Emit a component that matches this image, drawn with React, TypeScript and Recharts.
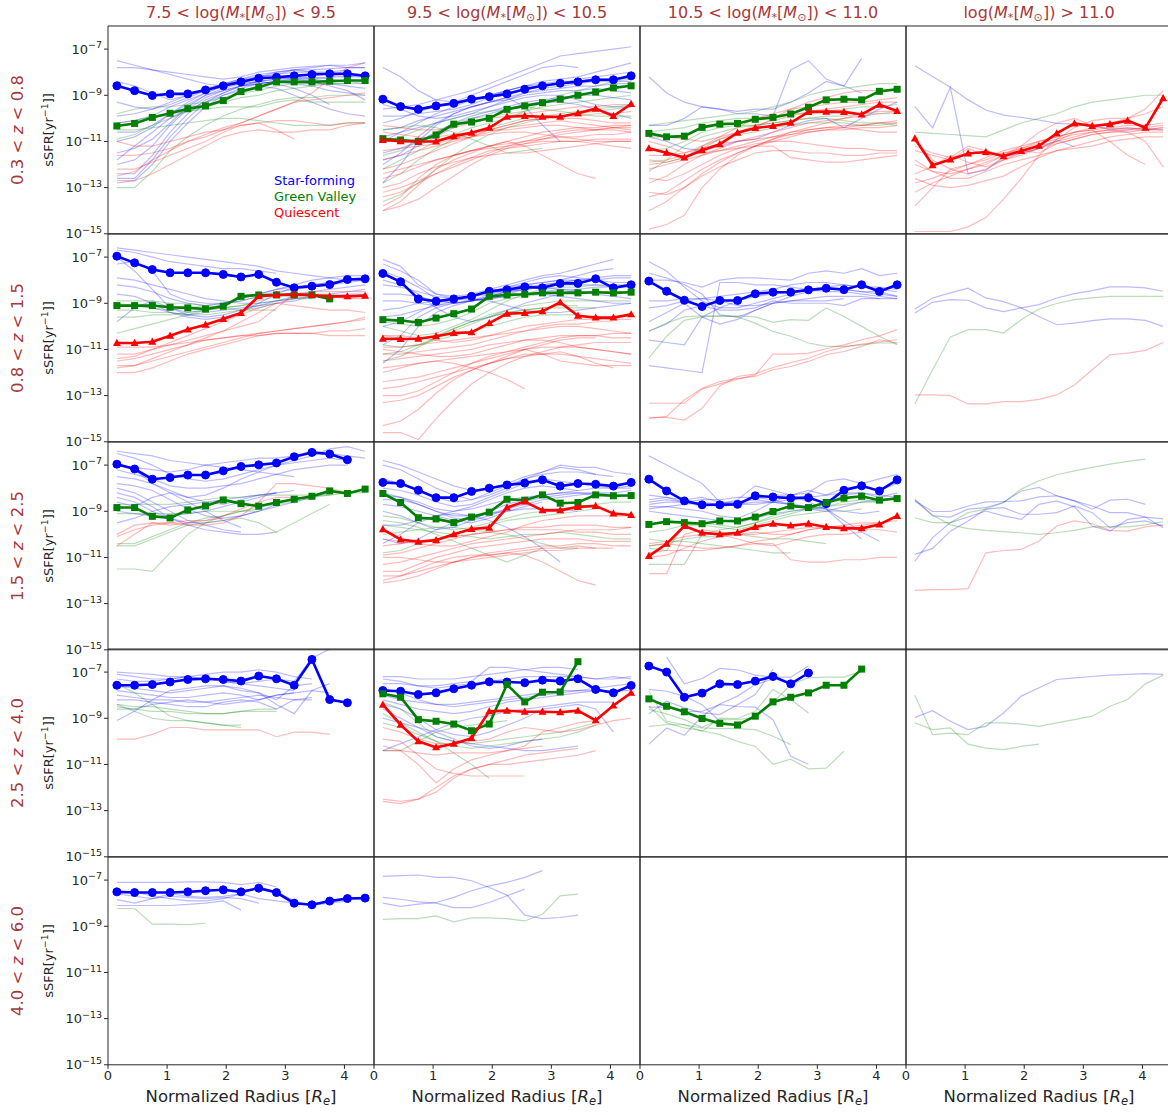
import React from 'react';
import { LineChart, Line, XAxis, YAxis, ReferenceArea } from 'recharts';

type Profile = (number | null)[];

// Radial bin centres, in units of the effective radius
const RADII = [0.15, 0.45, 0.75, 1.05, 1.35, 1.65, 1.95, 2.25, 2.55, 2.85, 3.15, 3.45, 3.75, 4.05, 4.35];
const X_TICKS = [0, 1, 2, 3, 4];
// log10 sSFR tick positions
const Y_TICKS = [-15, -13, -11, -9, -7];

const Z_BINS: [string, string][] = [
  ['0.3', '0.8'],
  ['0.8', '1.5'],
  ['1.5', '2.5'],
  ['2.5', '4.0'],
  ['4.0', '6.0'],
];
const MASS_BINS: [string | null, string][] = [
  ['7.5', '9.5'],
  ['9.5', '10.5'],
  ['10.5', '11.0'],
  [null, '11.0'],
];
const CLASS_NAMES = ['Star-forming', 'Green Valley', 'Quiescent'];

// ---------------- 0.3 < z < 0.8 ----------------
const z1m1SF: Profile = [-8.59, -8.8, -9.01, -8.94, -8.94, -8.77, -8.59, -8.42, -8.26, -8.22, -8.16, -8.1, -8.07, -8.07, -8.16];
const z1m1GV: Profile = [-10.33, -10.22, -9.96, -9.78, -9.58, -9.46, -9.23, -8.84, -8.65, -8.42, -8.42, -8.42, -8.39, -8.36, -8.36];
const z1m1SFgal: Profile[] = [
  [-7.5, -7.7, -7.9, -8.1, -8.3, -8.5, -8.6, -8.4, -8.2, -8.0, -7.9, -7.8, -7.7, -7.8, -7.8],
  [-7.8, -7.8, -7.9, -8.0, -8.1, -8.2, -8.3, -8.2, -8.0, -7.9, -7.8, -7.75, -7.7, -7.7, -7.6],
  [-8.4, -8.6, -8.9, -9.2, -9.0, -8.8, -8.5, -8.3, -8.1, -8.0, -7.9, -8.0, -8.0, -7.9],
  [-9.3, -9.5, -9.6, -9.4, -9.1, -8.8, -8.5, -8.3, -8.2, -8.1, -8.0, -8.0, -8.1, -8.2, -8.1],
  [-10.2, -10.1, -9.9, -9.5, -9.2, -8.9, -8.6, -8.4, -8.3, -8.2, -8.3, -8.4, -8.6, -8.8, -9.2],
  [-11.0, -10.8, -10.4, -9.8, -9.3, -8.9, -8.6, -8.5, -8.4, -8.5, -8.7, -9.0, -9.4],
  [-11.5, -11.3, -10.9, -10.2, -9.5, -9.0, -8.7, -8.5, -8.4, -8.3, -8.3, -8.2, -8.3, -8.4, -8.5],
  [-12.0, -11.8, -11.2, -10.3, -9.6, -9.1, -8.8, -8.6, -8.5, -8.4, -8.4, -8.5, -8.5, -8.6, -8.7],
  [-12.4, -12.4, -11.6, -10.6, -9.8, -9.2, -8.9, -8.6, -8.4, -8.3, -8.2, -8.3, -8.4],
  [-12.8, -12.7, -12.0, -11.0, -10.2, -9.5, -9.0, -8.7, -8.5, -8.4, -8.3, -8.3, -8.2, -8.2, -8.2],
  [-11.8, -11.2, -10.6, -10.0, -9.6, -9.3, -9.0, -8.8, -8.6, -8.7, -9.0, -9.3, -9.6, -9.8, -9.9],
  [-10.6, -10.6, -10.3, -9.8, -9.4, -9.0, -8.8, -8.6, -8.5, -8.4, -8.5, -8.6, -8.8, -8.9, -9.0],
  [-12.6, -12.6, -11.8, -10.8, -10.0, -9.3, -8.9, -8.6, -8.4],
  [-9.9, -9.8, -9.6, -9.3, -9.0, -8.7, -8.5, -8.4, -8.2, -8.1, -7.9, -7.9, -7.85, -7.8, -7.8],
];
const z1m1GVgal: Profile[] = [
  [-13.0, -13.0, -12.3, -11.4, -10.8, -10.3, -9.9, -9.6, -9.4, -9.2, -9.1, -9.1, -9.0, -9.0, -9.0],
  [-9.8, -9.6, -9.5, -9.5, -9.4, -9.3, -9.1, -8.9, -8.8, -8.6, -8.5, -8.5, -8.5, -8.5, -8.5],
  [-10.2, -10.1, -9.9, -9.8, -9.7, -9.6, -9.5, -9.5, -9.5, -9.3, -9.2, -9.3, -9.3, -9.3, -9.3],
  [-10.5, -10.5, -10.4, -10.3, -10.2, -10.1, -10.0, -10.0, -10.1, -10.2, -10.3, -10.3, -10.3, -10.2, -10.2],
  [-10.9, -10.7, -10.3, -10.0, -9.7, -9.5, -9.3, -9.1, -9.0, -8.8, -8.7, -8.6, -8.5, -8.5],
];
const z1m1Qgal: Profile[] = [
  [-11.6, -11.6, -11.5, -11.3, -11.0, -10.8, -10.5, -10.2, -9.9, -9.6, -9.3, -8.9, -8.3, -7.8, -7.6],
  [-12.2, -12.2, -11.9, -11.6, -11.3, -11.0, -10.6, -10.3, -10.2, -10.1, -10.1, -10.2, -10.3, -10.2, -10.2],
  [-12.7, -12.7, -12.4, -12.0, -11.6, -11.2, -10.8, -10.6, -10.5, -10.6, -10.6, -10.5, -10.5, -10.3, -10.2],
  [-11.0, -11.2, -11.2, -11.0, -10.8, -10.6, -10.5, -10.3, -10.2, -10.5, -10.9],
  [-12.5, -12.3, -11.8, -11.4, -11.0, -10.7, -10.4, -10.2, -9.9, -9.6, -9.3, -9.2, -9.1, -9.0, -8.9],
];

const z1m2SF: Profile = [-9.17, -9.49, -9.61, -9.46, -9.35, -9.17, -9.06, -8.94, -8.74, -8.59, -8.48, -8.42, -8.33, -8.33, -8.16];
const z1m2GV: Profile = [-10.88, -10.94, -11.0, -10.72, -10.25, -10.16, -10.0, -9.61, -9.46, -9.32, -9.17, -9.0, -8.86, -8.68, -8.59];
const z1m2Q: Profile = [-10.94, -10.99, -11.0, -11.0, -10.77, -10.62, -10.41, -9.93, -9.9, -9.93, -9.93, -9.78, -9.58, -9.9, -9.38];
const z1m2SFgal: Profile[] = [
  [-7.8, -8.2, -8.8, -9.2, -9.3, -9.2, -9.0, -8.8, -8.6, -8.4, -8.3, -8.2, -8.0, -7.8, -7.6],
  [-9.6, -9.5, -9.4, -9.2, -9.0, -8.8, -8.5, -8.2, -7.9, -7.6, -7.3, -7.2, -7.1, -7.0, -6.9],
  [-10.2, -10.0, -9.7, -9.5, -9.3, -9.0, -8.7, -8.4, -8.1, -7.8, -7.7, -7.8],
  [-11.0, -10.6, -10.2, -9.8, -9.5, -9.2, -9.0, -8.8, -8.6, -8.5, -8.4, -8.4, -8.3, -8.3, -8.2],
  [-12.8, -12.0, -11.0, -10.3, -9.8, -9.5, -9.3, -9.1, -8.9, -8.8, -8.7, -8.6, -8.6, -8.5, -8.5],
  [-10.5, -10.4, -10.1, -9.9, -9.7, -9.5, -9.3, -9.2, -9.0, -8.9, -8.8, -8.8, -8.7, -8.8, -8.9],
  [-11.5, -11.3, -11.0, -10.6, -10.2, -9.9, -9.7, -9.5, -9.3, -9.2, -9.1, -9.0, -9.0, -9.1, -9.2],
  [-9.4, -9.6, -9.9, -10.0, -9.9, -9.7, -9.5, -9.3, -9.1, -9.0, -9.0, -9.2, -9.4, -9.5, -9.5],
  [-12.0, -11.5, -10.8, -10.2, -9.8, -9.5, -9.3, -9.1, -9.5, -10.3, -11.0],
  [-10.8, -10.6, -10.4, -10.2, -10.0, -9.8, -9.5, -9.2, -8.9, -8.7, -8.6, -8.5, -8.4, -8.4, -8.4],
  [-9.9, -9.9, -9.8, -9.7, -9.6, -9.4, -9.1, -8.8, -8.6, -8.6, -8.5, -8.3, -8.2, -8.1, -8.0],
  [-11.8, -11.6, -11.2, -10.8, -10.4, -10.0, -9.8, -9.6, -9.4, -9.3, -9.3, -9.4, -9.6, -9.8, -10.0],
];
const z1m2GVgal: Profile[] = [
  [-11.6, -11.4, -11.0, -10.6, -10.2, -10.0, -9.9, -9.8, -9.7, -9.5, -9.4, -9.3, -9.2, -9.1, -9.0],
  [-12.8, -12.4, -11.8, -11.3, -10.9, -10.6, -10.4, -10.2, -10.0, -9.9, -9.8, -9.7, -9.6, -9.5, -9.4],
  [-10.5, -10.4, -10.3, -10.4, -10.6, -10.9, -11.2, -11.5, -11.4, -11.3],
  [-12.2, -11.8, -11.4, -11.0, -10.7, -10.4, -10.2, -10.0, -9.7, -9.3, -9.0, -8.8, -8.6, -8.4, -8.3],
  [-11.0, -10.8, -10.5, -10.2, -10.0, -9.8, -9.7, -9.6, -9.5, -9.6, -9.7, -9.8, -9.9, -9.9, -9.9],
  [-13.6, -13.3, -12.8, -12.2, -11.6, -11.1, -10.7, -10.4, -10.2, -10.0, -9.9, -9.8, -9.7, -9.6, -9.5],
];
const z1m2Qgal: Profile[] = [
  [-14.0, -13.6, -12.9, -12.2, -11.8, -11.5, -11.2, -11.0, -10.8, -10.6, -10.5, -10.4, -10.4, -10.3, -10.3],
  [-13.8, -13.4, -12.6, -12.0, -11.6, -11.4, -11.2, -11.1, -11.0, -10.9, -10.8, -10.8, -10.7, -10.7, -10.6],
  [-13.4, -13.2, -12.8, -12.4, -12.0, -11.7, -11.4, -11.3, -11.2, -11.1, -11.0, -11.0, -10.9, -10.9, -10.9],
  [-13.0, -12.8, -12.4, -12.1, -11.9, -11.7, -11.6, -11.5, -11.5, -11.4, -11.3, -11.2, -11.1, -11.0, -11.0],
  [-12.6, -12.4, -12.1, -11.8, -11.6, -11.4, -11.2, -11.0, -11.2, -11.6, -12.0, -12.4, -12.6],
  [-12.2, -12.0, -11.7, -11.4, -11.1, -10.8, -10.5, -10.3, -10.1, -10.0, -9.9, -9.9, -9.8, -9.8, -9.7],
  [-11.8, -11.6, -11.4, -11.2, -11.0, -10.8, -10.6, -10.4, -10.3, -10.2, -10.1, -10.2, -10.3, -10.4, -10.5],
  [-11.4, -11.3, -11.2, -11.1, -10.9, -10.7, -10.5, -10.3, -10.1, -10.0, -10.0, -10.0, -10.1, -10.2, -10.2],
  [-11.0, -11.0, -10.9, -10.8, -10.7, -10.6, -10.5, -10.5, -10.4, -10.3, -10.3, -10.4, -10.5, -10.5, -10.6],
  [-10.6, -10.7, -10.8, -10.9, -10.9, -10.8, -10.7, -10.6, -10.6, -10.7, -10.8, -10.9, -11.0, -11.0, -11.0],
  [-12.4, -12.2, -12.0, -11.8, -11.6, -11.4, -11.3, -11.2, -11.1, -11.0, -11.0, -11.0, -11.1, -11.2, -11.3],
  [-13.2, -13.0, -12.7, -12.4, -12.1, -11.8, -11.5, -11.2, -11.0, -10.8, -10.6, -10.5, -10.5, -10.4, -10.4],
  [-10.3, -10.4, -10.5, -10.5, -10.4, -10.2, -10.0, -9.9, -9.8, -9.7, -9.6, -9.5, -9.5, -9.4, -9.4],
  [-14.0, -13.8, -13.5, -13.0, -12.5, -12.0, -11.6, -11.3, -11.1, -10.9, -10.7, -10.6, -10.5, -10.4, -10.3],
];

const z1m3GV: Profile = [-10.65, -10.8, -10.77, -10.39, -10.25, -10.22, -10.04, -9.96, -9.81, -9.52, -9.2, -9.17, -9.2, -8.83, -8.74];
const z1m3Q: Profile = [-11.3, -11.49, -11.7, -11.38, -11.12, -10.62, -10.42, -10.33, -10.19, -9.72, -9.71, -9.72, -9.83, -9.41, -9.68];
const z1m3SFgal: Profile[] = [
  [-8.2, -8.9, -9.3, -9.5, -9.6, -9.7, -9.6, -9.6, -9.3, -8.9, -8.4, -8.6, -7.4],
  [-10.3, -10.3, -10.0, -9.5, -9.6, -9.8, -9.8, -9.9, -7.9, -7.5, -8.3, -8.6, -8.9],
  [-10.8, -11.0, -11.3, -11.4, -11.2, -11.0, -10.9, -10.6, -10.3, -10.1, -10.0, -10.4, -10.0, -9.6, -9.3],
];
const z1m3GVgal: Profile[] = [
  [-10.3, -10.2, -10.1, -10.0, -9.9, -9.8, -9.7, -9.5, -9.3, -9.0, -8.8, -8.7, -8.6, -8.5, -8.5],
  [-10.6, -10.5, -10.4, -10.2, -10.1, -10.0, -10.0, -9.9, -9.8, -9.8, -9.7, -9.6, -9.5, -9.5, -9.4],
  [-11.4, -11.3, -11.0, -10.6, -10.4, -10.3, -10.3, -10.2, -10.1, -10.0, -9.9, -9.9, -9.8, -9.8, -9.7],
  [-12.3, -11.8, -11.2, -10.8, -10.6, -10.4, -10.3, -10.2, -10.1, -10.0, -10.0, -10.1, -10.2, -10.2, -10.3],
  [-11.8, -11.9, -11.7, -11.2, -10.9, -10.7, -10.6, -10.4, -10.3, -10.2, -10.2, -10.2, -10.3, -10.3, -10.2],
];
const z1m3Qgal: Profile[] = [
  [-12.8, -12.5, -12.0, -11.6, -11.3, -11.0, -10.8, -10.6, -10.4, -10.2, -10.1, -10.0, -9.9, -9.8, -9.8],
  [-13.4, -13.2, -12.7, -12.2, -11.8, -11.5, -11.2, -11.0, -10.8, -10.6, -10.5, -10.4, -10.3, -10.2, -10.2],
  [-14.0, -13.6, -13.0, -12.4, -11.9, -11.5, -11.2, -10.9, -10.7, -10.5, -10.4, -10.3, -10.3, -10.2, -10.1],
  [-12.2, -12.0, -11.8, -11.6, -11.4, -11.2, -11.0, -10.8, -10.6, -10.5, -10.4, -10.4, -10.5, -10.6, -10.6],
  [-11.6, -11.6, -11.5, -11.3, -11.1, -11.0, -10.9, -10.8, -10.7, -10.6, -10.5, -10.5, -10.4, -10.4, -10.3],
  [-12.6, -12.7, -12.4, -12.0, -11.6, -11.3, -11.1, -11.0, -11.0, -11.1, -11.2, -11.3, -11.3, -11.4, -11.4],
  [-13.2, -13.3, -13.0, -12.5, -12.1, -11.8, -11.5, -11.4, -11.4, -11.5, -11.5, -11.6, -11.6, -11.5, -11.5],
  [-14.8, -14.6, -14.2, -13.0, -12.2, -11.6, -11.2, -10.9, -10.6, -10.4, -10.2, -10.0, -9.8, -9.7, -9.7],
  [-12.0, -11.9, -11.7, -11.3, -10.9, -10.6, -10.3, -10.1, -9.9, -9.7, -9.6, -9.5, -9.4, -9.3, -9.3],
  [-11.9, -11.8, -11.6, -11.5, -11.4, -11.3, -11.2, -11.2, -11.7, -11.8, -11.9, -11.9, -11.8, -11.7, -11.6],
  [-11.0, -11.2, -11.5, -11.2, -10.8, -10.4, -10.0, -9.8, -9.6, -9.5, -9.4, -9.3, -9.3, -9.2, -9.1],
  [-10.8, -10.8, -10.9, -11.0, -10.8, -10.6, -10.4, -10.0, -9.6, -9.3, -9.1, -8.9, -8.8, -8.8, -8.8],
];

const z1m4Q: Profile = [-10.87, -12.03, -11.78, -11.52, -11.46, -11.64, -11.41, -11.19, -10.65, -10.22, -10.33, -10.25, -10.1, -10.41, -9.13];
const z1m4SFgal: Profile[] = [
  [-7.72, -8.19, -8.65, -9.2, -9.64, -9.86, -9.96, -10.07, -10.22, -10.25, -10.36, -10.43, -10.43, -10.43, -10.51],
  [-9.49, -10.41, -8.65, -12.39, -12.25, -11.67, -11.52, -11.3, -10.94, -11.23],
];
const z1m4GVgal: Profile[] = [
  [-10.6, -10.65, -10.7, -10.75, -10.8, -10.5, -10.2, -10.0, -9.8, -9.5, -9.3, -9.2, -9.1, -9.0, -9.0],
];
const z1m4Qgal: Profile[] = [
  [-11.0, -11.8, -12.2, -12.0, -11.7, -11.4, -11.2, -11.0, -10.8, -10.6, -10.5, -10.4, -10.3, -10.3, -10.2],
  [-11.8, -12.3, -12.4, -12.2, -12.0, -11.6, -11.2, -10.6, -10.2, -10.0, -10.3, -10.5, -10.6, -10.5, -10.4],
  [-12.4, -12.1, -11.6, -11.9, -12.1, -11.8, -11.6, -11.3, -11.0, -10.8, -10.6, -10.5, -10.4, -10.5, -10.4],
  [-13.8, -13.0, -12.2, -12.4, -12.2, -11.8, -11.5, -11.3, -11.1, -10.9, -10.7, -10.6, -10.5, -10.4, -10.3],
  [-12.8, -12.6, -12.3, -12.0, -11.8, -11.5, -11.3, -11.1, -10.9, -10.7, -10.6, -10.5, -10.5, -10.5, -10.5],
  [-11.4, -11.6, -11.8, -11.3, -11.6, -11.5, -11.4, -11.2, -11.0, -10.6, -10.5, -11.0, -11.6, -12.0],
  [-14.9, -14.9, -14.9, -14.7, -14.3, -13.5, -12.6, -11.6, -10.9, -10.4, -10.1, -10.0, -10.0, -9.8, -9.5],
  [-12.0, -12.3, -12.6, -12.6, -12.3, -12.0, -11.8, -11.6, -11.4, -11.3, -11.2, -11.0, -10.9, -10.8, -10.8],
  [-12.6, -12.9, -13.0, -12.9, -12.7, -12.5, -12.1, -11.7, -11.4, -11.2, -11.0, -10.8, -10.7, -10.6, -10.6],
  [-11.2, -11.5, -11.7, -11.2, -11.4, -11.6, -11.4, -11.5, -11.1, -10.9, -10.7, -10.6, -10.6, -11.0, -12.1],
  [-13.2, -12.8, -12.5, -12.2, -11.9, -11.6, -11.3, -11.0, -10.8, -10.6, -10.4, -10.2, -10.0, -9.6, -8.8],
];

// ---------------- 0.8 < z < 1.5 ----------------
const z2m1SF: Profile = [-6.96, -7.25, -7.54, -7.68, -7.68, -7.68, -7.75, -7.86, -7.75, -8.09, -8.33, -8.26, -8.19, -7.97, -7.94];
const z2m1GV: Profile = [-9.1, -9.1, -9.1, -9.17, -9.2, -9.25, -9.13, -8.7, -8.64, -8.64, -8.64, -8.64, -8.81];
const z2m1Q: Profile = [-10.72, -10.72, -10.67, -10.41, -10.14, -9.93, -9.68, -9.42, -8.7, -8.64, -8.61, -8.64, -8.7, -8.7, -8.67];
const z2m1SFgal: Profile[] = [
  [-6.6, -6.7, -6.8, -6.9, -7.0, -7.1, -7.2, -7.3, -7.4, -7.6, -7.7, -7.8, -7.9, -8.0, -8.0],
  [-6.7, -6.8, -7.0, -7.2, -7.3, -7.4, -7.5, -7.5, -7.6, -7.7],
  [-7.3, -7.2, -7.6, -8.6, -8.9, -9.0, -9.0, -8.9, -8.7, -8.5, -8.4, -8.3, -8.2, -8.1, -8.0],
  [-8.2, -8.3, -8.5, -8.8, -9.0, -9.1, -9.0, -8.8, -8.6, -8.4, -8.2, -8.0, -7.9, -7.8, -7.8],
  [-9.8, -9.2, -8.9, -9.2, -9.5, -9.6, -9.5, -9.3, -9.1, -8.9, -8.7, -8.5, -8.4, -8.3, -8.2],
  [-8.6, -8.7, -9.0, -9.4, -9.6, -9.7, -9.6, -9.4, -9.0, -8.6, -8.3, -8.2, -8.1, -8.0, -8.0],
  [-7.0, -7.6, -8.4, -9.2, -9.4, -9.3, -9.0, -8.8, -8.6, -8.4, -8.3, -8.2, -8.1, -8.0, -7.9],
  [-9.1, -9.1, -9.2, -9.4, -9.5, -9.4, -9.3, -9.2, -9.1, -9.0, -8.9, -8.7, -8.6, -8.5, -8.4],
  [-7.9, -8.0, -8.2, -8.4, -8.6, -8.8, -8.9, -9.0, -9.0, -8.9, -8.8, -8.7, -8.7, -8.6, -8.6],
];
const z2m1GVgal: Profile[] = [
  [-8.9, -8.9, -8.9, -9.0, -9.0, -9.1, -9.2, -9.3, -9.3, -9.3],
  [-9.3, -9.3, -9.4, -9.4, -9.5, -9.5, -9.4, -9.3, -9.2, -9.0],
  [-9.6, -9.6, -9.5, -9.5, -9.4, -9.3, -9.2, -9.1, -9.0, -8.9, -8.8, -8.8],
  [-10.3, -10.1, -9.9, -9.7, -9.5, -9.3, -9.2, -9.1, -8.9, -8.7, -8.6, -8.6, -8.6, -8.7],
  [-9.0, -9.1, -9.2, -9.3, -9.2, -9.1, -9.0, -8.9, -8.7, -8.6, -8.6, -8.7],
];
const z2m1Qgal: Profile[] = [
  [-11.2, -11.2, -11.0, -10.8, -10.6, -10.4, -10.2, -10.0, -9.8, -9.2, -8.6, -8.5, -8.5, -8.5, -8.5],
  [-11.7, -11.7, -11.5, -11.3, -11.1, -10.9, -10.7, -10.5, -10.3, -10.2, -10.1, -10.0, -9.9, -9.8, -9.7],
  [-12.0, -12.0, -11.8, -11.5, -11.2, -11.0, -10.8, -10.6, -10.4, -10.3, -10.3, -10.3, -10.2, -10.2, -10.1],
  [-11.5, -11.4, -11.2, -11.0, -10.8, -10.6, -10.5, -10.4, -10.4, -10.3, -10.3, -10.3, -10.4, -10.4, -10.4],
  [-10.9, -10.9, -10.9, -10.8, -10.7, -10.6, -10.5, -10.4, -10.3, -10.2, -10.1, -10.0, -9.9, -9.8, -9.6],
  [-11.8, -11.7, -11.4, -11.1, -10.8, -10.5, -10.2, -9.8, -9.4, -9.0, -8.8, -8.7, -8.7, -8.8, -8.8],
  [-11.4, -11.3, -11.0, -10.7, -10.4, -10.1, -9.8, -9.5, -9.2, -9.0, -9.1, -9.2, -9.3, -9.3, -9.4],
];

const z2m2SF: Profile = [-7.71, -8.07, -8.81, -8.91, -8.81, -8.7, -8.48, -8.41, -8.29, -8.33, -8.14, -8.14, -7.94, -8.33, -8.2];
const z2m2GV: Profile = [-9.71, -9.75, -9.83, -9.64, -9.45, -9.25, -8.7, -8.64, -8.61, -8.55, -8.55, -8.55, -8.52, -8.55, -8.52];
const z2m2Q: Profile = [-10.54, -10.55, -10.54, -10.43, -10.29, -10.26, -9.86, -9.45, -9.42, -9.35, -8.96, -9.54, -9.62, -9.62, -9.48];
const z2m2SFgal: Profile[] = [
  [-7.1, -7.4, -8.2, -8.6, -8.8, -8.9, -8.8, -8.6, -8.4, -8.2, -8.1, -8.0, -7.9, -7.8, -7.8],
  [-7.3, -7.6, -8.0, -8.6, -8.7, -8.6, -8.4, -8.2, -8.0, -7.8, -7.7, -7.5, -7.3, -7.1],
  [-7.6, -7.9, -8.3, -8.8, -9.0, -8.9, -8.6, -8.4, -8.2, -8.1, -8.0, -7.8, -7.6, -7.5],
  [-8.2, -8.3, -8.5, -8.7, -8.8, -8.7, -8.5, -8.3, -8.1, -7.9, -7.8, -7.9, -8.0, -8.1, -8.1],
  [-8.6, -8.6, -8.7, -8.9, -9.0, -8.9, -8.7, -8.5, -8.4, -8.3, -8.2, -8.2, -8.2, -8.3, -8.3],
  [-8.9, -8.9, -9.0, -9.1, -9.0, -8.9, -8.8, -8.7, -8.6, -8.6, -8.7, -8.8, -8.9, -9.0, -9.0],
  [-9.3, -9.2, -9.0, -8.9, -8.8, -8.7, -8.6, -8.5, -8.4, -8.3, -8.4, -8.5, -8.6, -8.7, -8.8],
  [-9.6, -9.5, -9.3, -9.1, -8.9, -8.7, -8.5, -8.3, -8.2, -8.1, -8.0, -8.0],
  [-10.0, -9.8, -9.4, -9.0, -8.8, -8.8, -8.9, -9.1, -9.3, -9.4, -9.4, -9.3, -9.2, -9.1, -9.0],
  [-10.8, -10.4, -9.6, -9.2, -9.0, -8.9, -8.8, -8.7, -8.6, -8.5, -8.4, -8.4, -8.3, -8.3, -8.2],
  [-11.6, -11.0, -10.0, -9.4, -9.1, -8.9, -8.7, -8.5, -8.3, -8.2, -8.1, -8.0, -8.0, -7.9, -7.9],
  [-8.0, -8.2, -8.6, -9.2, -9.6, -9.8, -9.6, -9.3, -9.0, -8.8, -8.6, -8.4],
];
const z2m2GVgal: Profile[] = [
  [-9.8, -9.9, -10.0, -9.9, -9.7, -9.4, -9.0, -8.8, -8.7, -8.6, -8.5, -8.5, -8.5, -8.5, -8.5],
  [-10.4, -10.5, -10.6, -10.4, -10.1, -9.8, -9.5, -9.3, -9.1, -9.0, -8.9, -8.9, -8.9, -8.9, -8.9],
  [-10.8, -10.9, -10.8, -10.5, -10.2, -9.9, -9.6, -9.4, -9.3, -9.2, -9.2, -9.2, -9.2],
  [-11.2, -11.1, -10.8, -10.6, -10.4, -10.2, -10.0, -9.8, -9.6, -9.5, -9.5, -9.5],
  [-10.0, -10.2, -10.4, -10.3, -10.0, -9.7, -9.3, -8.9, -8.6, -8.4, -8.3, -8.3, -8.2, -8.2, -8.2],
  [-11.5, -11.3, -10.9, -10.5, -10.1, -9.8, -9.6, -9.4, -9.3, -9.2, -9.1, -9.1],
];
const z2m2Qgal: Profile[] = [
  [-10.9, -10.9, -10.8, -10.7, -10.6, -10.5, -10.4, -10.3, -10.2, -10.1, -10.0, -10.0, -10.1, -10.2, -10.3],
  [-11.2, -11.2, -11.1, -11.0, -10.9, -10.8, -10.6, -10.4, -10.2, -10.0, -9.9, -9.9, -9.8, -9.8],
  [-11.5, -11.4, -11.3, -11.2, -11.1, -11.0, -10.8, -10.7, -10.6, -10.5, -10.4, -10.4, -10.4, -10.5, -10.5],
  [-11.8, -11.7, -11.6, -11.5, -11.4, -11.3, -11.2, -11.1, -11.0, -10.9, -10.9, -10.9, -11.0, -11.1, -11.2],
  [-12.4, -12.3, -12.2, -12.0, -11.8, -11.6, -11.4, -11.2, -11.0, -11.2, -11.5, -11.6, -11.7, -11.7, -11.7],
  [-13.0, -13.0, -12.8, -12.4, -12.0, -11.6, -11.3, -11.1, -10.9, -10.7, -10.5, -10.4, -10.4, -10.3, -10.3],
  [-13.3, -13.2, -13.0, -12.6, -12.2, -11.9, -11.6, -11.3, -11.0, -10.8, -10.6, -10.5, -10.5],
  [-14.3, -14.1, -13.6, -12.9, -12.3, -11.9, -11.6, -11.4, -11.3, -11.2, -11.1, -11.3, -11.6, -11.8],
  [-14.6, -14.6, -14.9, -14.0, -13.2, -12.5, -12.0, -11.6, -11.3, -11.1, -10.9, -10.8, -10.7, -10.7, -10.7],
  [-12.0, -11.8, -11.6, -11.5, -11.6, -11.8, -12.0, -12.3, -12.7],
  [-11.0, -11.1, -11.2, -11.3, -11.3, -11.2, -11.0, -10.8, -10.6, -10.6, -10.7, -10.9, -11.0, -11.1, -11.2],
  [-12.7, -12.6, -12.4, -12.2, -12.0, -11.8, -11.6, -11.4, -11.2, -11.2, -11.2, -11.3, -11.4, -11.5, -11.6],
  [-10.4, -10.4, -10.5, -10.6, -10.7, -10.6, -10.4, -10.2, -10.0, -9.9, -9.8, -9.7, -9.7, -9.7, -9.7],
];

const z2m3SF: Profile = [-8.04, -8.48, -8.87, -9.14, -8.88, -8.88, -8.59, -8.52, -8.52, -8.42, -8.35, -8.41, -8.2, -8.49, -8.2];
const z2m3SFgal: Profile[] = [
  [-7.2, -7.6, -8.3, -8.9, -9.2, -9.2, -9.0, -8.8, -8.6, -8.4, -8.3, -8.4, -8.5, -8.5, -8.7],
  [-7.7, -7.9, -8.2, -8.6, -9.5, -9.6, -9.3, -9.0, -8.7, -8.5, -8.3, -8.2, -8.3, -8.4, -8.5],
  [-8.0, -8.0, -8.1, -8.3, -8.0, -7.9, -7.9, -7.95, -8.0, -7.7, -7.6, -7.7, -7.5, -7.8, -7.7],
  [-8.9, -8.9, -8.8, -8.8, -8.7, -8.6, -8.5, -8.4, -8.2, -8.1, -8.1, -8.2, -8.3, -8.3, -8.4],
  [-9.2, -9.1, -8.9, -8.8, -8.9, -9.1, -9.1, -9.0, -8.9, -8.8, -8.7, -8.7, -8.7, -8.8],
  [-10.6, -10.7, -10.8, -9.6, -9.2, -8.9, -8.7, -8.6, -8.5, -8.5, -8.4, -8.4, -8.5, -8.6, -8.7],
  [-11.7, -11.8, -11.9, -12.0, -8.1, -8.1, -8.2, -8.2, -8.3, -8.4, -8.5, -8.5, -8.6, -8.7, -8.8],
  [-9.8, -9.4, -9.0, -9.6, -9.9, -9.7, -9.3, -9.0, -8.9, -8.9, -8.9, -8.8],
  [-10.2, -9.9, -9.3, -9.1, -9.3, -9.3, -9.2, -8.9, -9.0, -9.0, -9.0, -9.1, -8.8, -8.8, -8.8],
];
const z2m3GVgal: Profile[] = [
  [-10.22, -9.86, -9.59, -9.54, -9.57, -9.54, -9.59, -9.83, -9.71, -9.74, -9.2, -9.57, -10.0, -10.43, -10.8],
  [-11.38, -10.43, -9.74, -9.59, -9.54, -9.59, -9.86, -10.22, -10.43, -10.72, -10.87, -10.87, -10.8, -10.72, -10.72],
];
const z2m3Qgal: Profile[] = [
  [-13.33, -13.33, -13.33, -12.72, -12.49, -12.29, -12.1, -11.2, -11.2, -11.16, -10.97, -10.8, -10.58, -10.41, -10.14],
  [-13.94, -13.94, -14.06, -13.55, -12.58, -12.17, -12.06, -11.78, -11.57, -11.38, -11.09, -10.9, -10.77, -10.67, -10.58],
  [-13.99, -13.9, -13.19, -12.68, -12.39, -12.25, -12.17, -11.88, -11.74, -11.52, -11.23, -11.09, -10.87, -10.58, -10.72],
];

const z2m4SFgal: Profile[] = [
  [-9.25, -8.77, -8.55, -8.35, -8.77, -8.93, -9.2, -9.06, -8.77, -8.58, -8.45, -8.29, -8.29, -8.33, -8.48],
  [-9.42, -8.96, -8.84, -8.87, -9.2, -9.36, -9.2, -9.57, -9.93, -9.86, -9.75, -9.68, -9.68, -9.74, -10.0],
];
const z2m4GVgal: Profile[] = [
  [-13.36, -11.88, -10.46, -10.14, -10.14, -10.29, -9.71, -9.25, -9.01, -8.84, -8.77, -8.7, -8.7, -8.7, -8.7],
];
const z2m4Qgal: Profile[] = [
  [-12.97, -12.97, -13.0, -13.36, -13.36, -13.26, -13.26, -13.16, -12.97, -12.54, -11.88, -11.23, -11.16, -11.04, -10.7],
];

// ---------------- 1.5 < z < 2.5 ----------------
const z3m1SF: Profile = [-6.96, -7.17, -7.61, -7.54, -7.43, -7.43, -7.25, -7.06, -6.99, -6.91, -6.64, -6.45, -6.52, -6.77];
const z3m1GV: Profile = [-8.84, -8.84, -9.22, -9.29, -8.94, -8.77, -8.51, -8.67, -8.78, -8.62, -8.48, -8.35, -8.12, -8.23, -8.04];
const z3m1SFgal: Profile[] = [
  [-6.4, -6.5, -6.6, -6.8, -6.9, -7.0, -7.1, -7.2, -7.3, -7.4, -7.5],
  [-6.5, -6.7, -7.0, -7.4, -7.6, -7.7, -7.6, -7.4, -7.2, -7.0, -6.8, -6.6, -6.3, -6.2, -6.4],
  [-6.9, -7.2, -7.8, -8.2, -8.4, -8.3, -8.0, -7.6, -7.3, -7.0, -6.9, -6.8, -6.7, -6.8],
  [-7.5, -7.6, -7.8, -8.1, -8.4, -8.6, -8.7, -8.5, -8.3, -8.2],
  [-7.8, -7.9, -8.1, -8.5, -8.9, -9.2, -9.3, -9.2, -9.0, -8.7, -8.4],
  [-8.0, -8.2, -8.6, -9.0, -9.4, -9.6, -9.8, -9.9],
  [-8.2, -8.4, -8.8, -9.3, -9.6, -9.8, -9.9, -10.0, -10.0, -9.9],
  [-8.4, -8.6, -9.0, -9.3, -9.5, -9.5, -9.4, -9.2, -9.0, -8.8, -8.6, -8.4, -8.2],
  [-8.6, -8.8, -8.4, -8.2, -8.6, -9.0, -9.4, -9.7],
  [-9.0, -9.1, -9.2, -9.2, -9.1, -9.0, -8.8, -8.6, -8.4, -8.2],
  [-9.5, -9.3, -9.0, -8.8, -8.7, -8.6, -8.5, -8.4, -8.3, -8.2, -8.1],
  [-7.2, -7.4, -7.6, -7.9, -8.0, -8.0, -7.9, -7.8, -7.6, -7.4, -7.2, -7.1, -7.0, -7.0],
  [-7.0, -7.1, -7.2, -7.3, -7.2, -7.0, -6.9, -6.8, -6.7, -6.7, -6.6, -6.5, -6.5, -6.6, -6.7],
];
const z3m1GVgal: Profile[] = [
  [-10.4, -10.4, -10.1, -9.8, -9.5, -9.3, -9.2, -9.0, -8.8, -8.7, -8.6, -8.4, -8.3, -8.2, -8.2],
  [-11.5, -11.5, -11.6, -10.8, -10.0, -9.5, -9.2, -9.0, -8.9],
  [-9.1, -9.1, -9.1, -9.1, -9.1, -9.0, -9.0, -9.0, -9.0],
  [-8.7, -8.7, -8.7, -8.7, -8.6, -8.5, -8.4, -8.4, -8.3, -8.3, -8.3, -8.3, -8.3],
  [-10.5, -10.5, -10.2, -9.9, -9.6, -9.5, -9.4, -9.3, -9.5, -9.9, -9.5, -9.1, -8.7],
];
const z3m1Qgal: Profile[] = [
  [-10.5, -10.0, -9.5, -9.5, -9.6, -9.6, -9.5, -9.2, -8.6, -7.8, -7.8, -7.9, -8.0, -8.2],
  [-10.0, -9.6, -9.5, -9.6, -9.5, -9.4, -9.2, -8.9, -8.6, -8.4, -8.4, -8.5],
  [-10.1, -9.8, -9.6, -9.5, -9.4, -9.4, -9.3],
];

const z3m2SF: Profile = [-7.75, -7.8, -8.09, -8.41, -8.41, -8.14, -8.0, -7.86, -7.78, -7.64, -7.91, -7.8, -7.83, -7.91, -7.75];
const z3m2GV: Profile = [-8.23, -8.62, -9.28, -9.33, -9.49, -9.25, -9.04, -8.48, -8.52, -8.29, -8.65, -8.62, -8.29, -8.33, -8.32];
const z3m2Q: Profile = [-9.78, -10.22, -10.32, -10.25, -10.0, -9.77, -9.71, -8.84, -8.58, -8.96, -8.96, -8.81, -8.77, -9.1, -9.16];
const z3m2SFgal: Profile[] = [
  [-7.0, -7.2, -7.6, -8.0, -8.3, -8.5, -8.3, -8.0, -7.6, -7.3, -7.1, -7.2, -7.4, -7.5],
  [-6.8, -7.0, -7.3, -7.6, -7.9, -8.1, -8.0, -7.8, -7.5, -7.3, -7.0, -7.1, -7.1, -7.3, -7.4],
  [-7.6, -7.8, -8.1, -8.4, -8.6, -8.5, -8.2, -7.9, -7.6, -7.4, -7.3, -7.3, -7.4],
  [-8.0, -8.1, -8.3, -8.6, -8.8, -8.7, -8.4, -8.1, -7.8, -7.6, -7.7, -7.8, -7.9, -8.0, -8.0],
  [-8.3, -8.4, -8.6, -8.9, -9.0, -8.8, -8.5, -8.2, -8.0, -7.9, -8.0, -8.1],
  [-8.5, -8.5, -8.7, -9.0, -9.3, -9.4, -9.2, -8.9, -8.6, -8.4, -8.3, -8.2, -8.2, -8.3, -8.3],
  [-8.7, -8.8, -9.0, -9.2, -9.4, -9.5, -9.3, -9.0, -8.8, -8.6],
  [-9.0, -9.2, -9.5, -9.8, -9.7, -9.4, -9.0, -8.7, -8.5, -8.3, -8.2, -8.2, -8.3],
  [-9.6, -9.6, -9.4, -9.2, -9.1, -9.2, -9.4, -9.7, -10.1, -10.6, -11.2],
  [-10.4, -10.0, -9.5, -9.2, -9.0, -8.9, -8.7, -8.5, -8.4, -8.3, -8.2, -8.1, -8.0, -8.0, -7.9],
  [-10.2, -10.4, -10.2, -9.8, -9.5, -9.3, -9.1, -9.0, -8.9, -8.9, -8.9, -9.0],
  [-8.2, -8.4, -8.7, -9.0, -9.2, -9.2, -9.1, -8.9, -8.7, -8.5, -8.4, -8.3, -8.2, -8.2, -8.1],
];
const z3m2GVgal: Profile[] = [
  [-9.2, -9.3, -9.5, -9.7, -9.8, -9.7, -9.5, -9.3, -9.1, -9.0, -8.9, -8.8, -8.7, -8.6, -8.6],
  [-9.6, -9.7, -9.8, -9.9, -10.0, -10.1, -10.2, -10.1, -10.0, -10.0, -9.9, -10.0, -10.1, -10.2, -10.2],
  [-10.0, -9.9, -9.8, -9.7, -9.7, -9.8, -9.9, -10.0, -10.2, -10.4, -10.6, -10.6],
  [-10.8, -10.7, -10.4, -10.2, -10.0, -9.8, -9.6, -9.4, -9.3, -9.2, -9.1, -9.0, -8.9],
  [-9.4, -9.5, -9.7, -10.0, -10.3, -10.6, -10.9, -11.2, -10.9, -10.6],
];
const z3m2Qgal: Profile[] = [
  [-10.5, -10.4, -10.3, -10.2, -10.1, -10.0, -9.9, -9.8, -9.7, -9.7, -9.6, -9.6, -9.6, -9.7, -9.7],
  [-10.9, -10.8, -10.6, -10.4, -10.2, -10.0, -9.9, -9.8, -9.8, -9.8, -9.8, -9.9, -9.9, -10.0, -10.0],
  [-11.3, -11.2, -11.0, -10.8, -10.6, -10.4, -10.3, -10.2, -10.1, -10.0, -9.9, -9.8, -9.8, -9.8, -9.7],
  [-11.6, -11.6, -11.3, -11.0, -10.8, -10.6, -10.5, -10.4, -10.3, -10.2, -10.2, -10.2, -10.3, -10.3, -10.3],
  [-12.0, -11.8, -11.5, -11.2, -11.0, -10.9, -10.9, -10.8, -10.7, -10.6, -10.6, -10.5, -10.6],
  [-12.1, -12.0, -11.8, -11.5, -11.2, -11.0, -10.9, -10.8, -10.9, -11.2, -11.6, -12.0, -12.2],
  [-11.8, -11.8, -11.6, -11.4, -11.2, -11.0, -10.8, -10.7, -10.6, -10.5, -10.5, -10.4, -10.4, -10.5, -10.5],
  [-10.2, -10.3, -10.4, -10.5, -10.5, -10.3, -10.1, -9.9, -9.6, -9.4, -9.3, -9.2, -9.2, -9.2, -9.2],
  [-11.0, -11.0, -11.1, -11.2, -11.2, -11.1, -11.0, -10.9, -10.8, -10.7, -10.7, -10.6, -10.6, -10.6],
];

const z3m3SF: Profile = [-7.61, -8.12, -8.55, -8.72, -8.72, -8.7, -8.33, -8.38, -8.43, -8.41, -8.67, -8.09, -7.9, -8.12, -7.64];
const z3m3GV: Profile = [-9.57, -9.45, -9.49, -9.54, -9.42, -9.42, -9.25, -9.01, -8.77, -8.84, -8.62, -8.43, -8.35, -8.52, -8.45];
const z3m3Q: Profile = [-10.94, -10.41, -9.64, -9.93, -10.0, -9.93, -9.68, -9.54, -9.62, -9.54, -9.68, -9.74, -9.74, -9.57, -9.2];
const z3m3SFgal: Profile[] = [
  [-6.6, -7.0, -7.4, -7.8, -8.6, -8.7, -8.7, -8.6, -8.5, -8.4, -8.3, -8.2, -8.2, -8.3, -8.4],
  [-8.3, -8.4, -8.5, -8.4, -8.6, -8.6, -8.5, -8.6, -8.7, -8.8, -8.7, -8.3, -8.2, -8.4, -8.2],
  [-8.5, -8.4, -8.6, -8.8, -8.7, -8.6, -8.4, -8.5, -8.7, -8.9, -9.0, -8.8, -8.6, -8.5, -8.4],
  [-8.6, -8.5, -8.6, -8.7, -8.8, -8.7, -8.6, -8.6, -8.7, -8.8, -8.9, -9.0, -9.1, -9.0],
  [-8.8, -8.8, -8.7, -8.6, -8.7, -8.5, -7.9, -8.1, -8.3, -8.6, -8.9, -9.6, -10.2],
  [-8.9, -8.8, -8.9, -9.0, -9.2, -9.3, -9.0, -8.6, -8.3, -8.1, -8.3, -8.0, -7.9, -8.1, -7.8],
  [-9.0, -9.1, -9.2, -9.3, -9.4, -9.5, -9.3, -9.1, -9.0, -8.9, -8.9, -9.4, -9.9, -10.3],
  [-8.7, -8.6, -8.6, -8.5, -8.5, -8.4, -8.4, -8.3, -8.3, -8.2, -7.7, -7.6, -7.8, -7.6, -7.4],
];
const z3m3GVgal: Profile[] = [
  [-9.9, -9.8, -9.6, -9.5, -9.6, -9.7, -9.5, -9.2, -9.0, -8.9, -8.8, -8.6, -8.5, -8.6, -8.4],
  [-10.6, -10.7, -9.6, -9.6, -9.7, -9.8, -9.6, -9.4, -9.2, -9.1, -9.0, -9.0, -8.9],
  [-11.3, -11.3, -11.3, -10.0, -9.8, -9.7, -9.5, -9.3, -9.1, -8.9, -8.8, -8.7, -8.6, -8.6],
  [-10.2, -10.3, -10.3, -10.4, -10.5, -10.6, -10.7, -10.8, -10.8],
  [-10.5, -10.4, -10.2, -10.1, -10.1, -10.0, -10.1, -10.2, -10.2, -10.3, -10.4],
];
const z3m3Qgal: Profile[] = [
  [-11.7, -11.7, -10.0, -9.8, -9.9, -10.0, -9.9, -10.0, -10.0, -9.8, -9.7, -9.7, -9.6, -9.5, -9.4],
  [-10.5, -10.4, -10.5, -10.6, -10.6, -10.5, -10.3, -10.2, -10.0, -9.8, -9.7, -9.7, -9.8, -9.8, -9.9],
  [-10.8, -10.7, -10.7, -10.7, -10.6, -10.5, -10.4, -10.4, -11.1, -11.2, -11.2, -11.1, -11.1, -11.0, -11.0],
  [-10.4, -10.3, -10.1, -10.0, -10.0, -10.2, -10.4, -10.5, -10.3, -10.1, -10.0, -10.0, -9.9],
  [-11.0, -10.9, -10.6, -10.3, -10.1, -10.0, -10.0, -9.9, -9.8, -9.7, -9.7, -9.6, -9.5, -9.5],
];

const z3m4SFgal: Profile[] = [
  [-8.48, -9.2, -9.25, -8.91, -8.84, -8.62, -8.12, -7.97, -8.33, -8.55, -8.91, -8.52, -8.48, -8.7],
  [-8.55, -9.01, -9.01, -8.77, -8.59, -8.58, -8.55, -8.38, -8.33, -8.55, -8.77, -9.06, -9.06, -9.25, -9.33],
  [-10.87, -10.61, -9.86, -9.42, -8.91, -8.84, -9.13, -9.13, -9.06, -8.77, -9.06, -9.71, -9.49, -9.42, -9.64],
  [-11.16, -10.14, -9.49, -9.25, -8.99, -9.2, -9.35, -8.7, -8.55, -8.81, -9.64, -9.86, -9.35, -9.25, -9.71],
];
const z3m4GVgal: Profile[] = [
  [-9.28, -9.49, -9.49, -9.06, -8.91, -8.62, -8.04, -7.68, -7.42, -7.25, -7.1, -6.96, -6.84, -6.74],
  [-8.55, -9.16, -9.59, -9.75, -9.83, -9.88, -9.93, -10.0, -9.93, -9.83, -9.68, -9.68, -9.68, -9.59, -9.45],
];
const z3m4Qgal: Profile[] = [
  [-12.43, -12.39, -12.39, -12.35, -10.8, -10.7, -10.65, -10.29, -9.64, -9.42, -9.54, -9.83, -9.86, -9.68, -9.59],
];

// ---------------- 2.5 < z < 4.0 ----------------
const z4m1SF: Profile = [-7.57, -7.57, -7.54, -7.43, -7.32, -7.29, -7.32, -7.39, -7.17, -7.29, -7.57, -6.45, -8.19, -8.33];
const z4m1SFgal: Profile[] = [
  [-7.0, -7.05, -7.1, -7.2, -7.2, -7.3, -7.4, -7.5, -7.6, -7.7, -7.8],
  [-7.1, -7.2, -7.3, -7.3, -7.2, -7.1, -7.0, -7.0, -6.9, -7.0, -7.2, -7.3],
  [-7.3, -7.4, -7.4, -7.3, -7.2, -7.3, -7.4, -7.5, -7.4, -7.3, -7.4, -6.4, -6.0],
  [-7.6, -7.7, -7.8, -7.9, -7.8, -7.7, -7.6, -7.7, -7.9, -8.2, -7.6, -7.5],
  [-7.8, -7.9, -8.0, -8.1, -8.1, -8.0, -7.9, -8.0, -8.2, -8.0, -7.9, -7.8, -7.9],
  [-8.0, -8.1, -8.2, -8.2, -8.3, -8.3, -8.2, -8.1, -8.0, -8.1, -8.2, -8.2],
  [-8.2, -8.2, -8.3, -8.4, -8.5, -8.5, -8.3, -8.2, -8.3, -8.6, -8.2, -8.1],
  [-8.5, -8.6, -8.4, -8.3, -8.2, -8.3, -8.4, -8.3, -8.2, -8.0, -7.9],
  [-9.1, -8.7, -8.2, -7.8, -7.7, -7.6, -7.6, -7.8, -7.9, -8.4, -8.8, -7.8, -7.5],
];
const z4m1GVgal: Profile[] = [
  [-8.4, -8.5, -8.5, -8.6, -8.7, -8.8, -8.8, -8.7, -8.6, -8.6],
  [-8.6, -8.6, -8.7, -8.7, -8.8, -8.8, -8.8, -8.7, -8.7, -8.7],
  [-7.5, -7.9, -8.4, -8.9, -9.1, -9.2, -9.3, -9.3],
  [-8.4, -8.7, -9.0, -9.1, -9.1, -9.2, -9.3, -9.4],
];
const z4m1Qgal: Profile[] = [
  [-9.9, -9.9, -9.7, -9.4, -9.4, -9.5, -9.5, -9.5, -9.5, -9.8, -9.6, -9.6, -9.7],
];

const z4m2SF: Profile = [-7.8, -7.83, -7.97, -7.9, -7.72, -7.57, -7.42, -7.43, -7.46, -7.35, -7.39, -7.29, -7.75, -7.9, -7.58];
const z4m2GV: Profile = [-7.94, -8.09, -9.06, -9.13, -9.25, -9.54, -9.25, -7.54, -8.29, -7.87, -7.86, -6.55];
const z4m2Q: Profile = [-8.41, -9.28, -10.0, -10.26, -10.1, -9.86, -8.7, -8.67, -8.72, -8.72, -8.74, -8.67, -9.09, -8.45, -7.9];
const z4m2SFgal: Profile[] = [
  [-7.2, -7.2, -7.3, -7.3, -7.3, -7.2, -7.1, -7.0, -6.9, -6.8, -6.8, -6.9],
  [-7.3, -7.4, -7.6, -7.7, -7.6, -7.5, -7.4, -7.3, -7.2, -7.2, -7.2, -7.2, -7.3, -7.2, -7.3],
  [-7.5, -7.5, -7.6, -7.6, -7.5, -7.4, -6.8, -6.8, -6.9, -7.0, -7.1, -7.2, -7.3, -7.3, -7.2],
  [-7.7, -7.9, -8.2, -8.4, -8.5, -8.4, -8.3, -8.2, -8.1, -8.0, -7.9, -7.8, -7.7, -7.6, -7.5],
  [-8.0, -8.2, -8.3, -8.4, -8.4, -8.3, -8.2, -8.1, -8.0, -7.9, -7.8, -7.8, -7.8],
  [-8.2, -8.4, -8.6, -8.7, -8.8, -8.7, -8.5, -8.3, -8.2, -8.1, -8.0, -7.9, -7.8, -7.8, -7.8],
  [-8.4, -8.6, -9.0, -9.5, -9.7, -9.8, -9.6, -9.3, -9.0, -8.6, -8.5, -8.4, -8.6, -9.6],
  [-8.6, -9.0, -9.4, -9.8, -10.0, -10.1, -10.2, -10.3, -10.4, -10.4, -10.3, -10.2],
  [-9.0, -9.2, -9.4, -9.6, -9.9, -10.2, -10.3, -10.2, -10.0, -9.9],
  [-10.4, -10.1, -9.8, -9.5, -9.2, -9.0, -8.9, -8.7, -8.6, -8.5, -8.4, -8.3, -8.3, -8.3],
];
const z4m2GVgal: Profile[] = [
  [-8.3, -8.6, -9.2, -9.8, -10.0, -10.1, -10.0, -9.9, -9.8, -9.7, -9.6, -9.4, -9.2],
  [-8.8, -9.2, -9.6, -10.0, -10.5, -11.0, -11.6],
  [-10.4, -10.4, -10.0, -9.6, -9.4, -9.3, -9.2, -9.1],
  [-9.2, -9.4, -9.7, -10.0, -10.2, -10.3, -10.2, -10.1, -10.0, -9.9, -9.8, -9.6, -9.3],
];
const z4m2Qgal: Profile[] = [
  [-12.5, -12.6, -12.5, -12.2, -11.6, -11.2, -11.0, -11.0, -10.9, -10.8, -10.7, -10.6, -10.4],
  [-12.6, -12.7, -12.5, -12.0, -11.5, -11.2, -11.0, -10.8, -10.6, -10.5, -10.4, -10.3],
  [-10.4, -10.4, -10.5, -10.6, -10.5, -10.5, -10.5, -10.4, -10.3, -10.2],
  [-10.2, -10.4, -11.0, -11.8, -11.2, -10.8, -10.6, -10.4, -10.2, -9.6, -9.4, -9.2, -9.1],
  [-9.9, -10.0, -10.6, -11.2, -11.4, -11.5, -11.5, -11.5, -11.5],
  [-9.4, -9.6, -9.9, -10.1, -10.1, -10.0, -9.9, -9.6, -9.4, -9.5, -9.6, -9.5, -9.3, -9.1, -9.0],
];

const z4m3SF: Profile = [-6.74, -7.0, -8.09, -7.91, -7.51, -7.54, -7.39, -7.19, -7.51, -7.04];
const z4m3GV: Profile = [-8.16, -8.48, -8.72, -9.01, -9.22, -9.29, -8.91, -8.29, -8.09, -7.9, -7.57, -7.57, -6.87];
const z4m3SFgal: Profile[] = [
  [null, -6.35, -7.51, -7.28, -6.84, -6.9, -7.13, -7.22, -7.22, -6.74],
  [-8.81, -8.26, -8.55, -8.77, -8.84, -8.41, -7.97, -6.88],
  [-10.12, -9.42, -9.74, -8.91, -8.38, -8.04, -7.54, -7.3],
  [-8.52, -8.52, -8.7, -8.7, -8.41, -8.49, -8.52, -9.06, -10.65, -10.99],
  [-7.75, -7.83, -8.04, -8.41, -9.13],
];
const z4m3GVgal: Profile[] = [
  [-7.83, -9.13, -9.28, -9.57, -8.99, -9.01, -8.7, -7.75, -8.19, -8.77],
  [-9.35, -9.28, -9.28, -9.42, -9.45, -9.45, -9.49, -9.78, -10.14],
  [-8.48, -9.2, -9.42, -9.54, -9.71, -10.0, -10.22, -10.99, -10.77, -11.19, -11.16, -10.43],
  [-8.62, -8.81, -9.06, -9.39, -9.06, -9.06, -8.96, -8.33, -7.54, -7.25, -7.22, -7.22, -6.96],
];

const z4m4SFgal: Profile[] = [
  [-8.96, -8.67, -9.13, -9.49, -9.35, -8.77, -8.04, -7.68, -7.32, -7.25, -7.19, -7.13, -7.1, -7.07, -7.1],
];
const z4m4GVgal: Profile[] = [
  [-8.0, -9.71, -9.64, -9.71, -9.2, -9.2, -9.25, -9.35, -9.2, -9.06, -8.91, -8.48, -8.19, -7.51, -7.13],
  [-9.2, -9.49, -9.42, -10.12, -10.29, -10.36, -10.22, -10.12],
];

// ---------------- 4.0 < z < 6.0 ----------------
const z5m1SF: Profile = [-7.51, -7.54, -7.54, -7.54, -7.51, -7.46, -7.42, -7.51, -7.35, -7.54, -8.0, -8.07, -7.91, -7.8, -7.78];
const z5m1SFgal: Profile[] = [
  [-7.1, -7.1, -7.1, -7.1, -7.08, -7.08, -7.1, -7.2, -7.1, -7.3],
  [-7.85, -8.0, -7.8, -7.7, -7.75, -7.8, -7.75, -7.8, -8.0],
  [-8.1, -8.1, -8.1, -8.1, -8.05, -8.0, -7.9, -8.3],
  [-7.6, -7.7, -7.8, -7.6, -7.7, -7.75, -7.7, -7.6, -7.8, -7.9, -8.0, -8.1, -8.0, -7.9],
  [-7.5, -7.5, -7.7, -7.8, -7.9, -7.9, -7.8, -7.6, -7.3, -7.5, -7.9, -8.1, -7.9, -7.8],
];
const z5m1GVgal: Profile[] = [
  [-8.23, -8.23, -8.91, -8.91, -8.93, -8.87],
];

const z5m2SFgal: Profile[] = [
  [-6.84, -6.81, -6.78, -6.88, -6.88, -7.03, -7.32, -7.65, -8.52, -8.67, -8.62, -8.52],
  [-8.0, -8.14, -8.04, -7.97, -7.75, -7.46, -7.25, -7.1, -6.88, -6.59],
  [-7.75, -7.83, -7.94, -8.0, -8.19, -8.19, -7.97, -7.68, -7.39],
];
const z5m2GVgal: Profile[] = [
  [-8.7, -8.67, -8.67, -8.55, -8.81, -8.64, -8.64, -8.67, -8.77, -8.48, -7.68, -7.61],
];

interface PanelData {
  sf?: Profile;
  gv?: Profile;
  q?: Profile;
  sfGal?: Profile[];
  gvGal?: Profile[];
  qGal?: Profile[];
}

const PANELS: PanelData[][] = [
  [
    { sf: z1m1SF, gv: z1m1GV, sfGal: z1m1SFgal, gvGal: z1m1GVgal, qGal: z1m1Qgal },
    { sf: z1m2SF, gv: z1m2GV, q: z1m2Q, sfGal: z1m2SFgal, gvGal: z1m2GVgal, qGal: z1m2Qgal },
    { gv: z1m3GV, q: z1m3Q, sfGal: z1m3SFgal, gvGal: z1m3GVgal, qGal: z1m3Qgal },
    { q: z1m4Q, sfGal: z1m4SFgal, gvGal: z1m4GVgal, qGal: z1m4Qgal },
  ],
  [
    { sf: z2m1SF, gv: z2m1GV, q: z2m1Q, sfGal: z2m1SFgal, gvGal: z2m1GVgal, qGal: z2m1Qgal },
    { sf: z2m2SF, gv: z2m2GV, q: z2m2Q, sfGal: z2m2SFgal, gvGal: z2m2GVgal, qGal: z2m2Qgal },
    { sf: z2m3SF, sfGal: z2m3SFgal, gvGal: z2m3GVgal, qGal: z2m3Qgal },
    { sfGal: z2m4SFgal, gvGal: z2m4GVgal, qGal: z2m4Qgal },
  ],
  [
    { sf: z3m1SF, gv: z3m1GV, sfGal: z3m1SFgal, gvGal: z3m1GVgal, qGal: z3m1Qgal },
    { sf: z3m2SF, gv: z3m2GV, q: z3m2Q, sfGal: z3m2SFgal, gvGal: z3m2GVgal, qGal: z3m2Qgal },
    { sf: z3m3SF, gv: z3m3GV, q: z3m3Q, sfGal: z3m3SFgal, gvGal: z3m3GVgal, qGal: z3m3Qgal },
    { sfGal: z3m4SFgal, gvGal: z3m4GVgal, qGal: z3m4Qgal },
  ],
  [
    { sf: z4m1SF, sfGal: z4m1SFgal, gvGal: z4m1GVgal, qGal: z4m1Qgal },
    { sf: z4m2SF, gv: z4m2GV, q: z4m2Q, sfGal: z4m2SFgal, gvGal: z4m2GVgal, qGal: z4m2Qgal },
    { sf: z4m3SF, gv: z4m3GV, sfGal: z4m3SFgal, gvGal: z4m3GVgal },
    { sfGal: z4m4SFgal, gvGal: z4m4GVgal },
  ],
  [
    { sf: z5m1SF, sfGal: z5m1SFgal, gvGal: z5m1GVgal },
    { sfGal: z5m2SFgal, gvGal: z5m2GVgal },
    {},
    {},
  ],
];

// ---------------- layout & style ----------------
const FONT = '"DejaVu Sans", sans-serif';
const INK = '#262626';
const LABEL_RED = '#a83838';
const PLOT_LEFT = 108;
const PLOT_TOP = 26;
const PW = 266;
const PH = 207.8;
const YW = 56;
const XH = 34;
const MT = 2;
const MR = 2;

const COLOR = { sf: '#0000ff', gv: '#008000', q: '#ff0000' };
const CLASSES = ['sf', 'gv', 'q'] as const;

const YTick = (props: any) => {
  const { x, y, payload } = props;
  return (
    <text x={x} y={y} dy="0.35em" textAnchor="end" fontSize={13} fill={INK} fontFamily={FONT}>
      10
      <tspan dy="-0.55em" fontSize={9.5}>{'\u2212' + String(-payload.value)}</tspan>
    </text>
  );
};

const circleDot = (p: any) =>
  p.cx == null || p.cy == null ? (
    <g key={`c${p.index}`} />
  ) : (
    <circle key={`c${p.index}`} cx={p.cx} cy={p.cy} r={4} fill={COLOR.sf} stroke={COLOR.sf} />
  );

const squareDot = (p: any) =>
  p.cx == null || p.cy == null ? (
    <g key={`s${p.index}`} />
  ) : (
    <rect key={`s${p.index}`} x={p.cx - 3.5} y={p.cy - 3.5} width={7} height={7} fill={COLOR.gv} />
  );

const triangleDot = (p: any) =>
  p.cx == null || p.cy == null ? (
    <g key={`t${p.index}`} />
  ) : (
    <path
      key={`t${p.index}`}
      d={`M${p.cx},${p.cy - 4.2}L${p.cx + 4},${p.cy + 3}L${p.cx - 4},${p.cy + 3}Z`}
      fill={COLOR.q}
    />
  );

const MARKERS = { sf: circleDot, gv: squareDot, q: triangleDot };

function buildRows(p: PanelData) {
  return RADII.map((x, i) => {
    const row: Record<string, number | null> = { x };
    CLASSES.forEach((cls) => {
      const gal = (p as any)[`${cls}Gal`] as Profile[] | undefined;
      (gal || []).forEach((prof, k) => {
        const v = prof[i];
        row[`${cls}g${k}`] = v === undefined ? null : v;
      });
      const med = (p as any)[cls] as Profile | undefined;
      if (med) {
        const v = med[i];
        row[cls] = v === undefined ? null : v;
      }
    });
    return row;
  });
}

function Panel({ data, row, col }: { data: PanelData; row: number; col: number }) {
  const rows = buildRows(data);
  const bottom = row === PANELS.length - 1;
  const thin: React.ReactNode[] = [];
  CLASSES.forEach((cls) => {
    const gal = (data as any)[`${cls}Gal`] as Profile[] | undefined;
    (gal || []).forEach((_, k) => {
      thin.push(
        <Line
          key={`${cls}g${k}`}
          dataKey={`${cls}g${k}`}
          stroke={COLOR[cls]}
          strokeOpacity={0.27}
          strokeWidth={1.2}
          dot={false}
          activeDot={false}
          isAnimationActive={false}
        />
      );
    });
  });
  const medians = CLASSES.filter((cls) => (data as any)[cls]).map((cls) => (
    <Line
      key={cls}
      dataKey={cls}
      stroke={COLOR[cls]}
      strokeWidth={2.6}
      dot={MARKERS[cls]}
      activeDot={false}
      isAnimationActive={false}
    />
  ));

  return (
    <div
      style={{
        position: 'absolute',
        left: PLOT_LEFT + col * PW - YW,
        top: PLOT_TOP + row * PH - MT,
      }}
    >
      <LineChart
        width={YW + PW + MR}
        height={MT + PH + XH}
        data={rows}
        margin={{ top: MT, right: MR, bottom: 0, left: 0 }}
      >
        <XAxis
          dataKey="x"
          type="number"
          domain={[0, 4.5]}
          ticks={X_TICKS}
          interval={0}
          allowDataOverflow
          height={XH}
          axisLine={false}
          tickSize={4}
          tickLine={bottom ? { stroke: INK } : false}
          tick={bottom ? { fontSize: 13, fill: INK, fontFamily: FONT } : false}
        />
        <YAxis
          type="number"
          domain={[-15, -6]}
          ticks={Y_TICKS}
          interval={0}
          allowDataOverflow
          width={YW}
          axisLine={false}
          tickSize={4}
          tickLine={{ stroke: INK }}
          tick={col === 0 ? YTick : false}
        />
        {thin}
        {medians}
        <ReferenceArea
          x1={0}
          x2={4.5}
          y1={-15}
          y2={-6}
          fill="none"
          fillOpacity={0}
          stroke={INK}
          strokeWidth={1}
          strokeOpacity={1}
          ifOverflow="visible"
        />
      </LineChart>
    </div>
  );
}

const MassTitle = ({ lo, hi }: { lo: string | null; hi: string }) => {
  const m = (
    <>
      log(<i>M</i>
      <span style={{ fontSize: '0.7em', verticalAlign: '-0.25em' }}>*</span>[<i>M</i>
      <span style={{ fontSize: '0.7em', verticalAlign: '-0.25em' }}>{'\u2299'}</span>])
    </>
  );
  return lo === null ? (
    <span>
      {m} {'>'} {hi}
    </span>
  ) : (
    <span>
      {lo} {'<'} {m} {'<'} {hi}
    </span>
  );
};

export default function App() {
  return (
    <div
      style={{
        position: 'absolute',
        left: 0,
        top: 0,
        width: 1168,
        height: 1115,
        overflow: 'hidden',
        background: '#ffffff',
        fontFamily: FONT,
      }}
    >
      {PANELS.map((rowPanels, r) =>
        rowPanels.map((p, c) => <Panel key={`${r}-${c}`} data={p} row={r} col={c} />)
      )}

      {MASS_BINS.map(([lo, hi], c) => (
        <div
          key={`mt${c}`}
          style={{
            position: 'absolute',
            left: PLOT_LEFT + c * PW,
            width: PW,
            top: 2,
            textAlign: 'center',
            fontSize: 16,
            lineHeight: '22px',
            color: LABEL_RED,
            whiteSpace: 'nowrap',
          }}
        >
          <MassTitle lo={lo} hi={hi} />
        </div>
      ))}

      {Z_BINS.map(([lo, hi], r) => {
        const cy = PLOT_TOP + r * PH + PH / 2;
        return (
          <React.Fragment key={`z${r}`}>
            <div
              style={{
                position: 'absolute',
                left: 18,
                top: cy,
                transform: 'translate(-50%, -50%) rotate(-90deg)',
                fontSize: 16.5,
                color: LABEL_RED,
                whiteSpace: 'nowrap',
                lineHeight: '20px',
              }}
            >
              {lo} {'<'} <i>z</i> {'<'} {hi}
            </div>
            <div
              style={{
                position: 'absolute',
                left: 47,
                top: cy,
                transform: 'translate(-50%, -50%) rotate(-90deg)',
                fontSize: 13,
                color: INK,
                whiteSpace: 'nowrap',
                lineHeight: '16px',
              }}
            >
              sSFR[yr
              <span style={{ fontSize: '0.72em', verticalAlign: '0.45em' }}>{'\u22121'}</span>]]
            </div>
          </React.Fragment>
        );
      })}

      {MASS_BINS.map((_, c) => (
        <div
          key={`xl${c}`}
          style={{
            position: 'absolute',
            left: PLOT_LEFT + c * PW,
            width: PW,
            top: 1086,
            textAlign: 'center',
            fontSize: 16.5,
            lineHeight: '22px',
            color: INK,
            whiteSpace: 'nowrap',
          }}
        >
          Normalized Radius [<i>R</i>
          <span style={{ fontSize: '0.7em', verticalAlign: '-0.25em' }}>
            <i>e</i>
          </span>
          ]
        </div>
      ))}

      {CLASS_NAMES.map((name, k) => (
        <div
          key={`lg${k}`}
          style={{
            position: 'absolute',
            left: 274,
            top: 173 + k * 16,
            fontSize: 13,
            lineHeight: '16px',
            color: [COLOR.sf, COLOR.gv, COLOR.q][k],
            whiteSpace: 'nowrap',
          }}
        >
          {name}
        </div>
      ))}
    </div>
  );
}
